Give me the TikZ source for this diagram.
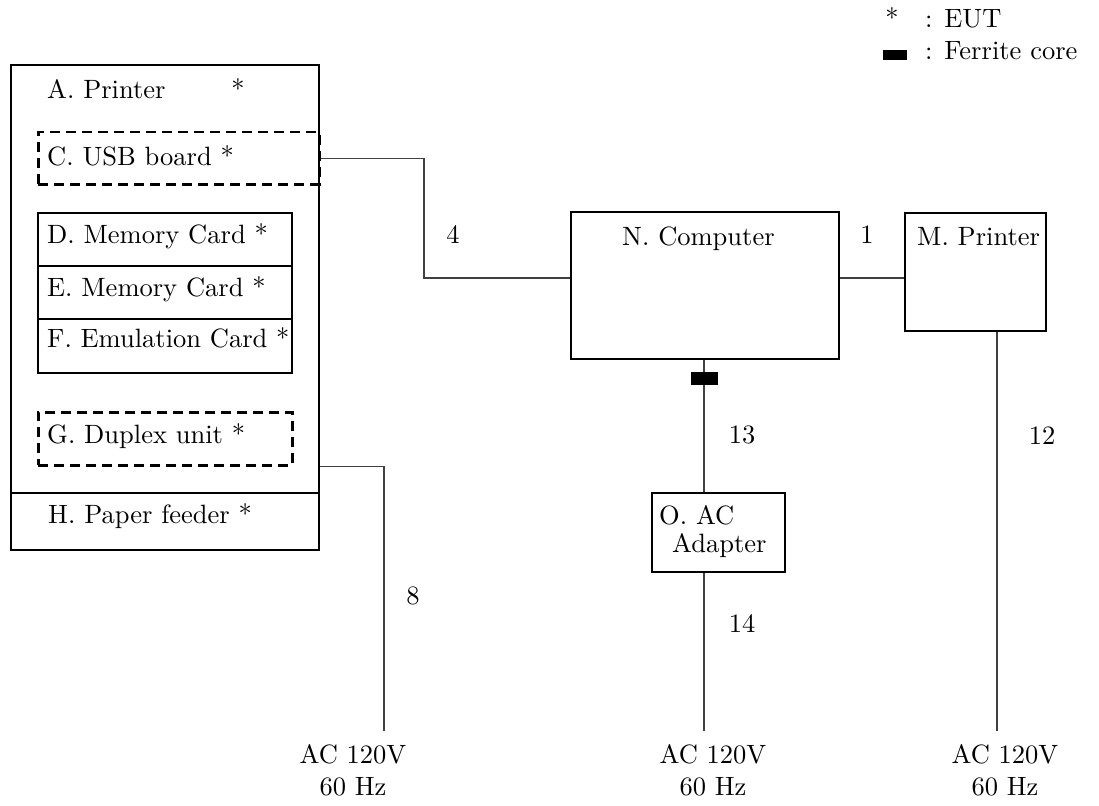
\documentclass[tikz,border=0pt]{standalone}
\usepackage{fontspec}
\setmainfont{lmroman10-regular}[Extension=.otf]
\usetikzlibrary{positioning}

\begin{document}
\begin{tikzpicture}[
  x=1pt, y=-1pt,
  every node/.style={font=\fontsize{26.5}{32}\selectfont},
  box/.style={
    draw,
    line width=2.2pt,
    anchor=north west,
    inner sep=0pt
  },
  dbox/.style={box, line width=2.5pt, dash pattern=on 10pt off 6pt},
  txt/.style={inner sep=0pt, anchor=base west},
  num/.style={inner sep=0pt, anchor=base},
  mains/.style={inner sep=0pt, anchor=base, align=center},
  core/.style={fill=black, inner sep=0pt},
  cable/.style={draw, line width=1.2pt, black!75}
]
\useasboundingbox (0,0) rectangle (1099,805);

% legend
\node[num] (eutstar) at (892,28) {*};
\node[txt] (eut) at (925,28) {: EUT};
\node[core, minimum width=24pt, minimum height=10pt] (corekey) at (895,55) {};
\node[txt] (corelbl) at (925,60) {: Ferrite core};

% printer with options
\node[box, minimum width=308pt, minimum height=428pt] (printer) at (10,64) {};
\node[box, minimum width=308pt, minimum height=57pt] (feeder) at (10,492) {};
\node[dbox, minimum width=281pt, minimum height=52pt] (usb) at (37,131) {};
\node[box, minimum width=254pt, minimum height=53pt] (memd) at (37,212) {};
\node[box, minimum width=254pt, minimum height=53pt] (meme) at (37,265) {};
\node[box, minimum width=254pt, minimum height=54pt] (emul) at (37,318) {};
\node[dbox, minimum width=254pt, minimum height=53pt] (duplex) at (37,411) {};

\node[txt] (printerlbl) at (47,99) {A. Printer};
\node[num] (printerstar) at (238,99) {*};
\node[txt] (usblbl) at (47,165) {C. USB board *};
\node[txt] (memdlbl) at (47,243) {D. Memory Card *};
\node[txt] (memelbl) at (47,296) {E. Memory Card *};
\node[txt] (emullbl) at (47,347) {F. Emulation Card *};
\node[txt] (duplexlbl) at (47,443) {G. Duplex unit *};
\node[txt] (feederlbl) at (48,523) {H. Paper feeder *};

% support units
\node[box, minimum width=268pt, minimum height=147pt] (pc) at (570,211) {};
\node[txt] (pclbl) at (622,245) {N. Computer};
\node[box, minimum width=141pt, minimum height=118pt] (mprn) at (904,212) {};
\node[txt] (mprnlbl) at (917,245) {M. Printer};
\node[box, minimum width=133pt, minimum height=79pt] (adapter) at (651,492) {};
\node[txt] (adapterlbl) at (659,524) {O. AC};
\node[txt] (adapterlbl2) at (672,552) {Adapter};

% mains
\coordinate (pw1) at (384,731);
\coordinate (pw2) at (704,731);
\coordinate (pw3) at (997,731);
\coordinate (k4) at (424,278);
\node[mains] (mains1) at (353,795) {AC 120V\\60 Hz};
\node[mains] (mains2) at (713,795) {AC 120V\\60 Hz};
\node[mains] (mains3) at (1005,795) {AC 120V\\60 Hz};

% cables
\draw[cable] (usb.east) -| (k4) -- (k4 -| pc.west);
\draw[cable] (pc.east |- k4) -- (mprn.west |- k4);
\draw[cable] (pw2 |- pc.south) -- (pw2 |- adapter.north);
\draw[cable] (pw2 |- adapter.south) -- (pw2);
\draw[cable] (pw3 |- mprn.south) -- (pw3);
\draw[cable] (printer.east |- duplex.south) -| (pw1);
\node[core, minimum width=27pt, minimum height=13pt] (core13) at (704,378) {};

\node[num] (c4) at (453,243) {4};
\node[num] (c1) at (867,243) {1};
\node[num] (c13) at (742,443) {13};
\node[num] (c14) at (742,632) {14};
\node[num] (c8) at (413,604) {8};
\node[num] (c12) at (1042,444) {12};
\end{tikzpicture}
\end{document}
